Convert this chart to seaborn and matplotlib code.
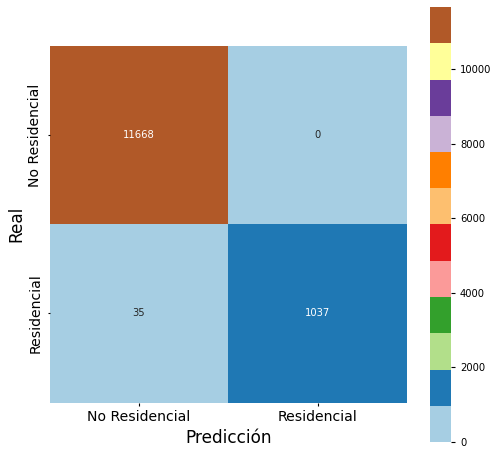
import matplotlib
matplotlib.use("Agg")
import matplotlib.pyplot as plt
import numpy as np
import seaborn as sns

etiquetas = ["No Residencial", "Residencial"]
no_residencial = [11668, 0]
residencial = [35, 1037]

matriz = np.array([no_residencial, residencial])

fig = plt.figure(figsize=(4.97, 4.55), dpi=100)
ax = fig.add_axes([49.8 / 497, 1 - 402.7 / 455, 357 / 497, 357 / 455])
cax = fig.add_axes([430 / 497, 1 - 442 / 455, 21 / 497, 435 / 455])

sns.heatmap(matriz, annot=True, fmt="d", cmap="Paired", square=True, ax=ax, cbar_ax=cax,
            annot_kws={"size": 7.2}, xticklabels=etiquetas, yticklabels=etiquetas)

ax.set_xlabel("Predicción", fontsize=12.2)
ax.set_ylabel("Real", fontsize=12.2)
ax.xaxis.labelpad = 3.5
ax.yaxis.labelpad = 2.5
ax.tick_params(axis="x", labelsize=10.1, length=1.8)
ax.tick_params(axis="y", labelsize=10.1, length=1.8)
cax.tick_params(labelsize=7.2, length=3)

fig.savefig("out.png", dpi=100)
